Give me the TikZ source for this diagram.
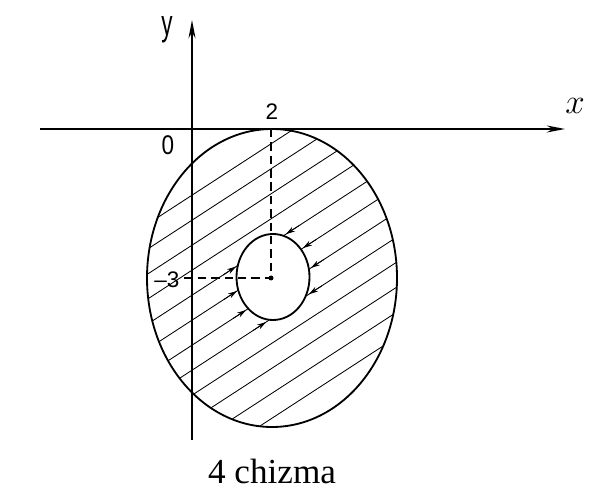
\documentclass[tikz,border=0pt]{standalone}
\usepackage{fontspec}
\setmainfont{Liberation Serif}
\setsansfont{Liberation Sans}
\usetikzlibrary{arrows.meta}
\tikzset{
  axis/.style={line width=1.4pt,-{Stealth[length=13pt,width=5pt]}},
  hatch/.style={line width=0.6pt},
  flow/.style={line width=0.6pt,-{Stealth[length=6.5pt,width=3.8pt]}},
  lbl/.style={font=\sffamily\fontsize{16}{16}\selectfont,inner sep=0pt},
}
\begin{document}
\begin{tikzpicture}[x=0.025cm,y=-0.025cm]
\useasboundingbox (0,0) rectangle (609,490);
\coordinate (C) at (271,278);
\begin{scope}[even odd rule]
\clip (272,278) ellipse (125 and 149) (273,277) ellipse (36.5 and 43);
\foreach \c in {320,345,...,595} \draw[hatch] (100,\c-65) -- (500,\c-325);
\end{scope}
\draw[line width=1.3pt] (272,278) ellipse (125 and 149);
\draw[line width=1.3pt] (273,277) ellipse (36.5 and 43);
\draw[axis] (40,129) -- (565,129);
\draw[axis] (192,440) -- (192,20);
\draw[dash pattern=on 6pt off 3.5pt,line width=0.9pt] (271,129) -- (C) -- (180,278);
\fill (C) circle (2.5);
\foreach \x/\c in {232/420,233/445,242/470,262/495}
  \draw[flow] (\x-9,\c-0.65*\x+5.85) -- (\x+4,\c-0.65*\x-2.6);
\foreach \x/\c in {290/420,307/445,315/470,313/495}
  \draw[flow] (\x+9,\c-0.65*\x-5.85) -- (\x-4,\c-0.65*\x+2.6);
\node[lbl] (ylab) at (167,30) {\scalebox{1}[1.6]{y}};
\node[lbl,font=\fontsize{30}{30}\selectfont] (xlab) at (575,106) {$x$};
\node[lbl] (zero) at (168,145) {\scalebox{1}[1.2]{0}};
\node[lbl] (two) at (272,112) {2};
\node[lbl] (three) at (167,280) {\textendash3};
\node[font=\fontsize{25}{25}\selectfont,anchor=base,inner sep=0pt] (cap) at (272,483) {4 chizma};
\end{tikzpicture}
\end{document}
